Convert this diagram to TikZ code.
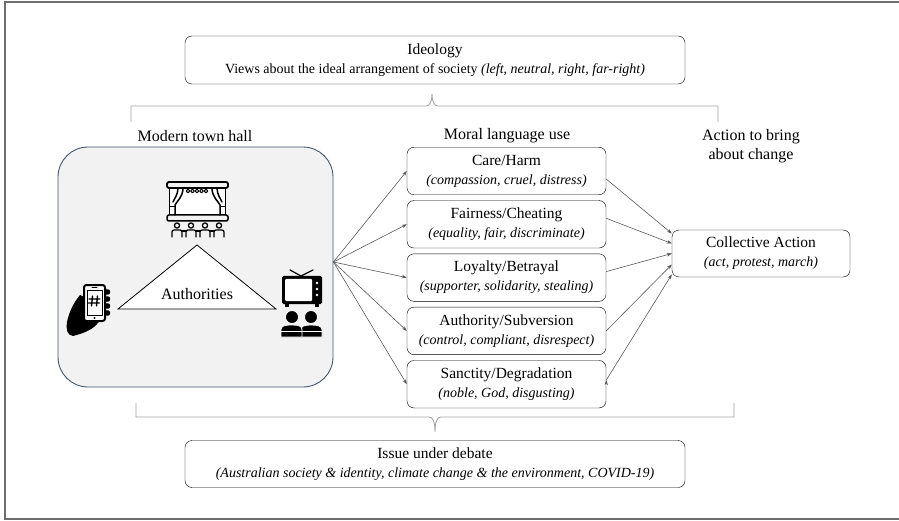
\documentclass[tikz,border=0pt]{standalone}
\usepackage{fontspec}
\setmainfont{Liberation Serif}
\usetikzlibrary{positioning,arrows.meta}
\definecolor{hallblue}{HTML}{44546A}
\definecolor{hallgray}{HTML}{F2F2F2}
\definecolor{linegray}{HTML}{5A5A5A}
\definecolor{bracegray}{HTML}{A3A3A3}
\definecolor{framegray}{HTML}{6E6E6E}
\newcommand{\subtxt}[1]{{\fontsize{14}{19}\selectfont\itshape #1}}

\begin{document}
\begin{tikzpicture}[
    x=1pt, y=-1pt,
    box/.style={draw, rounded corners=7pt, align=center, inner sep=0pt,
      font=\fontsize{15.5}{19}\selectfont},
    moral/.style={box, minimum width=199pt, minimum height=47.5pt},
    head/.style={align=center, font=\fontsize{16}{19}\selectfont},
    link/.style={-{Stealth[length=5pt,width=3.5pt]}, draw=linegray, line width=0.6pt},
    brace/.style={draw=bracegray, line width=0.9pt},
    icon/.style={line width=1.5pt, line cap=round, line join=round},
    node distance=53.3pt,
    on grid]
    \useasboundingbox (0,0) rectangle (899,521);
    \draw[draw=framegray, line width=1.6pt] (905,2) -- (5,2) -- (5,519) -- (905,519);

    % top and bottom boxes
    \node[box, minimum width=500pt, minimum height=48pt] (ideology) at (435,60)
      {Ideology\\{\fontsize{14}{19}\selectfont Views about the ideal arrangement of society \textit{(left, neutral, right, far-right)}}};
    \node[box, minimum width=500pt, minimum height=47pt] (issue) at (435,464)
      {Issue under debate\\\subtxt{(Australian society \& identity, climate change \& the environment, COVID-19)}};

    % braces
    \draw[brace] (131,122) -- (131,106) -- (426,106)
      .. controls (430,106) and (432,101) .. (432,94)
      .. controls (432,101) and (434,106) .. (438,106) -- (718,106) -- (718,122);
    \draw[brace] (136,403) -- (136,417) -- (429,417)
      .. controls (433,417) and (435,422) .. (435,432)
      .. controls (435,422) and (437,417) .. (441,417) -- (734,417) -- (734,403);

    % headings
    \node[head] (hallhead) at (195,136) {Modern town hall};
    \node[head] (moralhead) at (507,136) {Moral language use};
    \node[head] (actionhead) at (751,146) {Action to bring\\about change};

    % modern town hall
    \node[draw=hallblue, fill=hallgray, rounded corners=30pt, line width=0.9pt,
      minimum width=275pt, minimum height=240pt] (hall) at (195.5,267) {};
    \coordinate (hallout) at ([yshift=5pt]hall.east);
    \draw[fill=white, line width=0.8pt] (197,245) -- (276,309) -- (118,309) -- cycle;
    \node[font=\fontsize{16}{19}\selectfont] (auth) at (197,294) {Authorities};

    \begin{scope}[icon]
      % stage
      \fill[white] (170,188) rectangle (225,215);
      \draw[rounded corners=2pt, line width=1.8pt] (167,182) rectangle (228,188);
      \foreach \x in {188,192.5,197,201.5,206}
        \draw[line width=1pt] (\x,191) circle (1.8);
      \draw (169.5,188) -- (169.5,215) (225.5,188) -- (225.5,215);
      \draw (183,188) .. controls (183,197) and (177,201) .. (175,205) -- (175,215);
      \draw (178,188) .. controls (178,195) and (174,199) .. (173,202);
      \draw (212,188) .. controls (212,197) and (218,201) .. (220,205) -- (220,215);
      \draw (217,188) .. controls (217,195) and (221,199) .. (222,202);
      \draw[line width=1pt] (175,207) -- (170,207) (220,207) -- (225,207);
      \draw[rounded corners=2pt] (167,215) rectangle (228,221);
      \foreach \x in {177,191,205,219} {
        \draw[line width=1.3pt] (\x,225.5) circle (2.6);
        \draw[line width=1.3pt, rounded corners=2pt] (\x-5,237) -- (\x-5,230) -- (\x+5,230) -- (\x+5,237);
      }
      \foreach \x in {184,198,212}
        \draw[line width=1.3pt] (\x-2,231) -- (\x+2,231);

      % hand with phone
      \fill (84,320) -- (100,320) .. controls (96,327) and (89,331) .. (80,334)
        -- (73,336) .. controls (67,335) and (66,330) .. (67,322)
        .. controls (69,312) and (74,302) .. (80,295) -- (84,297) -- cycle;
      \foreach \y in {292,299,306,313}
        \fill[rounded corners=2pt] (101,\y-2.7) rectangle (110,\y+2.7);
      \draw[line width=2pt, fill=white, rounded corners=2.5pt] (84,285) rectangle (105,321);
      \draw[line width=0.8pt] (87,290) rectangle (102,315);
      \draw[line width=1pt] (92,287.5) -- (97,287.5);
      \fill (94.5,318) circle (1.2);
      \draw[line width=1.4pt] (92.5,296) -- (91.5,306) (97.5,296) -- (96.5,306)
        (89,299) -- (100,299) (88.5,303) -- (99.5,303);

      % television and viewers
      \draw[line width=1.2pt] (290,270) -- (301,276) -- (313,270);
      \fill[rounded corners=1.5pt] (282,276) rectangle (322,304);
      \fill[white, rounded corners=1pt] (285,279) rectangle (312,301);
      \foreach \y in {283,289,295}
        \fill[white] (317,\y) circle (1.4);
      \fill (285,303) rectangle (289,307);
      \fill (315,303) rectangle (319,307);
      \filldraw[draw=white, line width=0.8pt] (301,337) -- (301,330)
        .. controls (301,326) and (304,325) .. (311,325)
        .. controls (318,325) and (322,326) .. (322,330) -- (322,337) -- cycle;
      \filldraw[draw=white, line width=0.8pt] (311,317) circle (6.5);
      \filldraw[draw=white, line width=0.8pt] (281,337) -- (281,330)
        .. controls (281,326) and (284,325) .. (292,325)
        .. controls (299,325) and (302,326) .. (302,330) -- (302,337) -- cycle;
      \filldraw[draw=white, line width=0.8pt] (292,317) circle (6.5);
      \draw[white, line width=0.8pt] (281,331) -- (323,331);
    \end{scope}

    % moral foundations
    \node[moral] (care) at (506.5,171) {Care/Harm\\\subtxt{(compassion, cruel, distress)}};
    \node[moral] (fair) [below=of care] {Fairness/Cheating\\\subtxt{(equality, fair, discriminate)}};
    \node[moral] (loyal) [below=of fair] {Loyalty/Betrayal\\\subtxt{(supporter, solidarity, stealing)}};
    \node[moral] (author) [below=of loyal] {Authority/Subversion\\\subtxt{(control, compliant, disrespect)}};
    \node[moral] (sanct) [below=of author] {Sanctity/Degradation\\\subtxt{(noble, God, disgusting)}};

    \node[box, minimum width=178pt, minimum height=47pt] (collective) at (761,253.5)
      {Collective Action\\\subtxt{(act, protest, march)}};

    \path[link]
      (hallout) edge (care.west)
                edge (fair.west)
                edge (loyal.west)
                edge (author.west)
                edge (sanct.west)
      ([yshift=-8pt]care.east) edge ([yshift=20pt]collective.west)
      ([yshift=6pt]fair.east) edge ([yshift=10pt]collective.west)
      ([yshift=6pt]loyal.east) edge (collective.west)
      (author.east) edge ([yshift=-11pt]collective.west)
      ([yshift=4pt]sanct.east) edge ([yshift=-21pt]collective.west)
      ;
\end{tikzpicture}
\end{document}
